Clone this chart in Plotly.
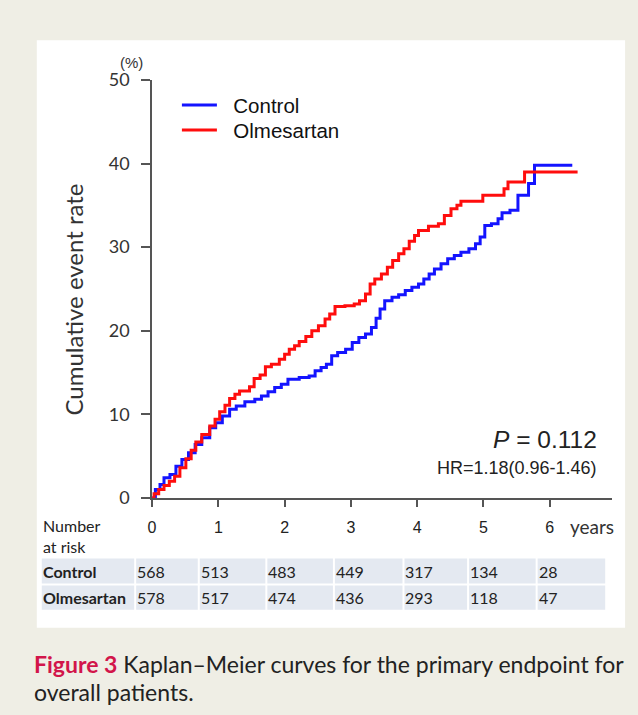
import plotly.graph_objects as go

# ---------------- data ----------------
control_t = [0, 0.05, 0.12, 0.18, 0.27, 0.36, 0.45, 0.55, 0.65, 0.75, 0.87, 0.96, 1.06, 1.17, 1.27,
             1.40, 1.55, 1.65, 1.75, 1.85, 1.95, 2.05, 2.22, 2.37, 2.46, 2.55, 2.63, 2.71, 2.80, 2.92,
             3.02, 3.12, 3.22, 3.31, 3.38, 3.44, 3.51, 3.62, 3.72, 3.82, 3.92, 4.02, 4.10, 4.18, 4.26,
             4.36, 4.46, 4.56, 4.66, 4.78, 4.88, 4.95, 5.02, 5.12, 5.22, 5.28, 5.40, 5.52, 5.68, 5.77, 6.34]
control_y = [0, 1.0, 1.6, 2.4, 2.8, 3.8, 4.6, 5.4, 6.4, 7.2, 8.4, 9.0, 9.8, 10.6, 11.0,
             11.5, 11.8, 12.2, 12.7, 13.2, 13.6, 14.2, 14.4, 14.6, 15.2, 15.6, 16.0, 17.0, 17.4, 17.8,
             18.6, 19.2, 19.6, 20.4, 21.5, 22.6, 23.6, 24.0, 24.3, 24.8, 25.2, 25.6, 26.2, 26.8, 27.4,
             28.0, 28.6, 29.0, 29.4, 29.8, 30.4, 31.2, 32.6, 32.8, 33.4, 34.1, 34.4, 36.2, 37.6, 39.8, 39.8]

olme_t = [0, 0.03, 0.10, 0.18, 0.26, 0.34, 0.42, 0.51, 0.59, 0.66, 0.75, 0.87, 0.95, 1.02, 1.10,
          1.17, 1.25, 1.32, 1.47, 1.54, 1.63, 1.71, 1.80, 1.92, 2.00, 2.07, 2.15, 2.22, 2.32, 2.41,
          2.51, 2.61, 2.68, 2.76, 2.91, 3.05, 3.13, 3.22, 3.29, 3.36, 3.46, 3.55, 3.63, 3.72, 3.80,
          3.88, 3.96, 4.02, 4.17, 4.32, 4.41, 4.51, 4.60, 4.66, 4.99, 5.31, 5.37, 5.62, 6.42]
olme_y = [0, 0.5, 1.0, 1.5, 2.0, 2.6, 3.6, 4.7, 5.7, 6.7, 7.6, 8.6, 9.4, 10.3, 11.1,
          11.9, 12.4, 12.8, 13.3, 14.3, 14.7, 15.7, 16.0, 16.6, 17.2, 17.8, 18.2, 18.7, 19.3, 20.0,
          20.6, 21.4, 22.0, 22.9, 23.0, 23.2, 23.6, 24.4, 25.6, 26.2, 26.8, 27.6, 28.4, 29.2, 29.8,
          30.7, 31.4, 32.0, 32.5, 32.8, 33.8, 34.6, 35.0, 35.5, 36.2, 37.0, 37.8, 39.0, 39.0]

x_ticks = [0, 1, 2, 3, 4, 5, 6]
y_ticks = [0, 10, 20, 30, 40, 50]
risk_groups = ["Control", "Olmesartan"]
risk_control = [568, 513, 483, 449, 317, 134, 28]
risk_olme = [578, 517, 474, 436, 293, 118, 47]

p_text = "<i>P</i> = 0.112"
hr_text = "HR=1.18(0.96-1.46)"

# ---------------- layout helpers ----------------
W, H = 638, 715
Y0, SY = 13.7, 0.967   # vertical calibration of the photographed page
def px(x):
    return x / W
def py(y):
    return 1 - ((y - Y0) / SY) / H

BG = "#efeee5"
AX = "#555555"
ARIAL = "Liberation Sans, Arial, sans-serif"
CAL = "Lato, Open Sans, sans-serif"
NB = "\u00a0\u00a0"

fig = go.Figure()
fig.add_trace(go.Scatter(x=control_t, y=control_y, mode="lines", name=NB + risk_groups[0],
                         legend="legend",
                         line=dict(color="#1414ff", width=3, shape="hv")))
fig.add_trace(go.Scatter(x=olme_t, y=olme_y, mode="lines", name=NB + risk_groups[1],
                         legend="legend2",
                         line=dict(color="#ff0d0d", width=3, shape="hv")))

shapes = []
# white panel
shapes.append(dict(type="rect", xref="paper", yref="paper", x0=px(33), x1=px(625), y0=py(628), y1=py(42),
                   fillcolor="white", line=dict(width=0), layer="below"))
# table cells
col_edges = [38, 133, 197, 265, 333, 403, 468, 537, 607]
row_edges = [(559, 584), (586, 610)]
for (r0, r1) in row_edges:
    for i in range(len(col_edges) - 1):
        shapes.append(dict(type="rect", xref="paper", yref="paper",
                           x0=px(col_edges[i]), x1=px(col_edges[i + 1] - 2),
                           y0=py(r1), y1=py(r0), fillcolor="#e4e9f1", line=dict(width=0), layer="below"))

ann = []
tbl_font = dict(family=CAL, size=16, color="#222")
for r, (grp, vals) in enumerate(zip(risk_groups, [risk_control, risk_olme])):
    yc = (row_edges[r][0] + row_edges[r][1]) / 2
    ann.append(dict(text="<b>%s</b>" % grp, x=px(37), y=py(yc), xref="paper", yref="paper",
                    xanchor="left", yanchor="middle", showarrow=False, font=tbl_font))
    for i, v in enumerate(vals):
        ann.append(dict(text=str(v), x=px(col_edges[i + 1] - 1), y=py(yc), xref="paper", yref="paper",
                        xanchor="left", yanchor="middle", showarrow=False, font=tbl_font))

ann.append(dict(text="Number<br>at risk", x=px(37), y=py(536), xref="paper", yref="paper",
                xanchor="left", yanchor="middle", align="left", showarrow=False,
                font=dict(family=CAL, size=16, color="#222")))
ann.append(dict(text="years", x=px(568), y=py(527), xref="paper", yref="paper",
                xanchor="left", yanchor="middle", showarrow=False,
                font=dict(family=CAL, size=19, color="#333")))
ann.append(dict(text="(%)", x=px(128), y=py(64), xref="paper", yref="paper",
                xanchor="center", yanchor="middle", showarrow=False,
                font=dict(family=ARIAL, size=15, color="#333")))
ann.append(dict(text="Cumulative event rate", x=px(70), y=py(301), xref="paper", yref="paper",
                xanchor="center", yanchor="middle", textangle=-90, showarrow=False,
                font=dict(family=CAL, size=24, color="#333")))
ann.append(dict(text=p_text, x=px(599), y=py(440), xref="paper", yref="paper",
                xanchor="right", yanchor="middle", showarrow=False,
                font=dict(family=ARIAL, size=24.5, color="#222")))
ann.append(dict(text=hr_text, x=px(599), y=py(469), xref="paper", yref="paper",
                xanchor="right", yanchor="middle", showarrow=False,
                font=dict(family=ARIAL, size=18, color="#222")))
# caption
ann.append(dict(text="<b><span style='color:#d2154a'>Figure 3</span></b> Kaplan\u2013Meier curves for the primary endpoint for",
                x=px(28), y=py(664), xref="paper", yref="paper", xanchor="left", yanchor="middle",
                showarrow=False, font=dict(family=CAL, size=23, color="#222")))
ann.append(dict(text="overall patients.", x=px(28), y=py(692), xref="paper", yref="paper",
                xanchor="left", yanchor="middle", showarrow=False,
                font=dict(family=CAL, size=23, color="#222")))

leg_common = dict(xanchor="left", yanchor="top", bgcolor="rgba(0,0,0,0)",
                  font=dict(family=ARIAL, size=20.5, color="#111"), itemwidth=35)
fig.update_layout(
    width=W, height=H, margin=dict(l=0, r=0, t=0, b=0),
    paper_bgcolor=BG, plot_bgcolor="rgba(0,0,0,0)",
    shapes=shapes, annotations=ann,
    showlegend=True,
    legend=dict(x=px(174), y=py(107) + 21 / H, **leg_common),
    legend2=dict(x=px(174), y=py(132) + 21 / H, **leg_common),
    xaxis=dict(domain=[px(149), px(612)], range=[0, (612 - 149) / 66.7], tickvals=x_ticks,
               showgrid=False, zeroline=False, showline=True, linecolor=AX, linewidth=1.5,
               ticks="outside", ticklen=7, tickcolor=AX, tickwidth=1.5,
               tickfont=dict(family=ARIAL, size=16, color="#222"), ticklabelstandoff=7),
    yaxis=dict(domain=[py(498.5), py(81.5)], range=[0, 50], tickvals=y_ticks,
               showgrid=False, zeroline=False, showline=True, linecolor=AX, linewidth=1.5,
               ticks="outside", ticklen=9, tickcolor=AX, tickwidth=1.5,
               tickfont=dict(family=CAL, size=18, color="#333"), ticklabelstandoff=8),
)

post = ("var d=document.getElementById('{plot_id}');"
        "d.style.position='fixed';d.style.top='0px';d.style.left='0px';"
        "document.body.style.margin='0px';document.body.style.overflow='hidden';"
        "document.documentElement.style.overflow='hidden';"
        "document.body.style.background='%s';" % BG)

fig.write_html("out.html", config={"displayModeBar": False}, post_script=post)
